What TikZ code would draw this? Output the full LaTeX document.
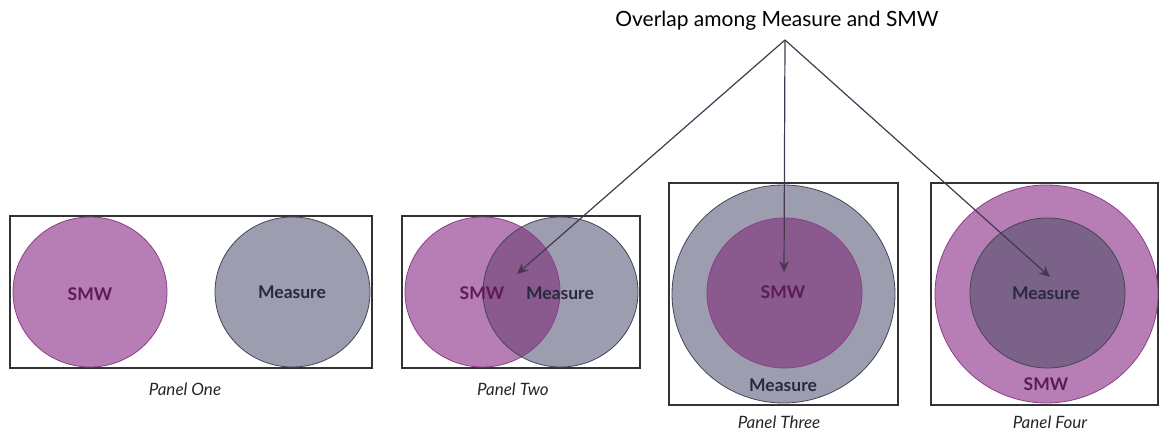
\documentclass[tikz,border=0pt]{standalone}
\usepackage{fontspec}
\setmainfont{Lato}
\usetikzlibrary{arrows.meta}
\definecolor{smwfill}{HTML}{B77DB5}
\definecolor{smwline}{HTML}{8A3F88}
\definecolor{smwtext}{HTML}{5C1A58}
\definecolor{msrfill}{HTML}{9D9DB0}
\definecolor{msrline}{HTML}{45455A}
\definecolor{msrtext}{HTML}{2A2840}
\definecolor{mixA}{HTML}{8A5A8E}
\definecolor{mixB}{HTML}{7B6289}
\definecolor{frame}{HTML}{333333}
\definecolor{pointer}{HTML}{45384F}
\tikzset{
  panelbox/.style={draw=frame, line width=1.4pt},
  smwc/.style={fill=smwfill, draw=smwline, line width=0.8pt},
  msrc/.style={fill=msrfill, draw=msrline, line width=0.8pt},
  smwlab/.style={font=\fontsize{17.5}{20}\selectfont\bfseries, text=smwtext, inner sep=0pt},
  msrlab/.style={font=\fontsize{17.5}{20}\selectfont\bfseries, text=msrtext, inner sep=0pt},
  caption/.style={font=\fontsize{17}{19}\selectfont\itshape, text=black!85, inner sep=0pt},
  pointerline/.style={draw=pointer, line width=1.2pt, -{Stealth[length=11pt,width=10pt]}}
}
\begin{document}
\begin{tikzpicture}[x=1pt,y=-1pt]
\useasboundingbox (0,0) rectangle (1160,433);

% title and the point the pointers leave from
\node[font=\fontsize{21}{24}\selectfont, inner sep=0pt] (title) at (777,21) {Overlap among Measure and SMW};
\coordinate (apex) at (785,40);

% Panel One: disjoint sets
\draw[panelbox] (10,216) rectangle (372,368);
\draw[smwc] (90,292) ellipse [x radius=77, y radius=75];
\draw[msrc] (292.5,292) ellipse [x radius=77.5, y radius=75];
\node[smwlab] (p1smw) at (90,294) {SMW};
\node[msrlab] (p1msr) at (292,292) {Measure};
\node[caption] (p1cap) at (185,389) {Panel One};

% Panel Two: partial overlap
\draw[panelbox] (402,216) rectangle (640,368);
\fill[smwfill] (482.5,292) ellipse [x radius=77.5, y radius=75];
\fill[msrfill] (560.5,292) ellipse [x radius=77.5, y radius=75];
\begin{scope}
  \clip (482.5,292) ellipse [x radius=77.5, y radius=75];
  \fill[mixA] (560.5,292) ellipse [x radius=77.5, y radius=75];
\end{scope}
\draw[smwline, line width=0.8pt] (482.5,292) ellipse [x radius=77.5, y radius=75];
\draw[msrline, line width=0.8pt] (560.5,292) ellipse [x radius=77.5, y radius=75];
\node[smwlab] (p2smw) at (482,293) {SMW};
\node[msrlab] (p2msr) at (560,293) {Measure};
\node[caption] (p2cap) at (513,389) {Panel Two};

% Panel Three: SMW inside Measure
\draw[panelbox] (669,183) rectangle (898,405);
\draw[msrc] (783.5,294) ellipse [x radius=111.5, y radius=109];
\draw[smwc, fill=mixA] (784.5,293) ellipse [x radius=77.5, y radius=75];
\node[smwlab] (p3smw) at (783,292) {SMW};
\node[msrlab] (p3msr) at (783,385) {Measure};
\node[caption] (p3cap) at (779,422) {Panel Three};

% Panel Four: Measure inside SMW
\draw[panelbox] (931,183) rectangle (1158,405);
\draw[smwc] (1046.5,294) ellipse [x radius=111.5, y radius=109];
\draw[msrc, fill=mixB] (1047.5,293) ellipse [x radius=77.5, y radius=75];
\node[msrlab] (p4msr) at (1046,293) {Measure};
\node[smwlab] (p4smw) at (1046,384) {SMW};
\node[caption] (p4cap) at (1050,422) {Panel Four};

% pointers from the title to each overlap
\coordinate (t2) at (517,274);
\coordinate (t3) at (784,272);
\coordinate (t4) at (1050,277);
\draw[pointerline] (apex) -- (t2);
\draw[pointerline] (apex) -- (t3);
\draw[pointerline] (apex) -- (t4);
\end{tikzpicture}
\end{document}
